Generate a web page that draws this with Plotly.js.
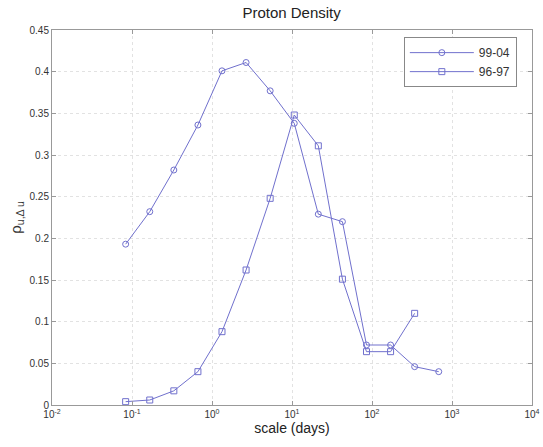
<!DOCTYPE html>
<html>
<head>
<meta charset="utf-8">
<script src="https://cdn.plot.ly/plotly-3.0.1.min.js"></script>
<style>html,body{margin:0;padding:0;background:#fff;}#chart{width:543px;height:447px;}</style>
</head>
<body>
<div id="chart"></div>
<script>
var scaleDays = [0.0833, 0.1667, 0.3333, 0.6667, 1.333, 2.667, 5.333, 10.67, 21.33, 42.67, 85.33, 170.7, 341.3, 682.7];
var rho9904 = [0.193, 0.232, 0.282, 0.336, 0.401, 0.411, 0.377, 0.338, 0.229, 0.220, 0.072, 0.072, 0.046, 0.040];
var scaleDays9697 = [0.0833, 0.1667, 0.3333, 0.6667, 1.333, 2.667, 5.333, 10.67, 21.33, 42.67, 85.33, 170.7, 341.3];
var rho9697 = [0.004, 0.006, 0.017, 0.040, 0.088, 0.162, 0.248, 0.348, 0.311, 0.151, 0.064, 0.064, 0.110];
var xTickVals = [0.01, 0.1, 1, 10, 100, 1000, 10000];
var xTickText = ['10<sup>-2</sup>', '10<sup>-1</sup>', '10<sup>0</sup>', '10<sup>1</sup>', '10<sup>2</sup>', '10<sup>3</sup>', '10<sup>4</sup>'];
var yTickVals = [0, 0.05, 0.1, 0.15, 0.2, 0.25, 0.3, 0.35, 0.4, 0.45];
var yTickText = ['0', '0.05', '0.1', '0.15', '0.2', '0.25', '0.3', '0.35', '0.4', '0.45'];

var col = 'rgb(112,112,205)';
var traces = [
  {x: scaleDays, y: rho9904, name: '99-04', type: 'scatter', mode: 'lines+markers',
   line: {color: col, width: 1}, marker: {symbol: 'circle-open', size: 6, color: col, line: {width: 1}}},
  {x: scaleDays9697, y: rho9697, name: '96-97', type: 'scatter', mode: 'lines+markers',
   line: {color: col, width: 1}, marker: {symbol: 'square-open', size: 6, color: col, line: {width: 1}}}
];
var layout = {
  width: 543, height: 447,
  margin: {l: 52, r: 11, t: 30, b: 42, pad: 0},
  paper_bgcolor: '#fff', plot_bgcolor: '#fff',
  font: {family: 'Liberation Sans, Arial, sans-serif', size: 10, color: '#333'},
  title: {text: 'Proton Density', x: 0.537, xanchor: 'center', y: 0.972, yanchor: 'middle', font: {size: 15, color: '#222'}},
  xaxis: {type: 'log', range: [-2, 4], tickvals: xTickVals, ticktext: xTickText,
    showgrid: true, gridcolor: '#e2e2e2', griddash: 'dot', gridwidth: 1,
    showline: true, linecolor: '#999', linewidth: 1, mirror: 'ticks', ticks: 'inside', ticklen: 4, tickcolor: '#999',
    zeroline: false, tickfont: {size: 10, color: '#333'},
    title: {text: 'scale (days)', font: {size: 14, color: '#222'}, standoff: 4}},
  yaxis: {range: [0, 0.45], tickvals: yTickVals, ticktext: yTickText,
    showgrid: true, gridcolor: '#e2e2e2', griddash: 'dot', gridwidth: 1,
    showline: true, linecolor: '#999', linewidth: 1, mirror: 'ticks', ticks: 'inside', ticklen: 4, tickcolor: '#999',
    zeroline: false, tickfont: {size: 10, color: '#333'},
    title: {text: 'ρ<sub>u,Δ u</sub>', font: {size: 15, color: '#333'}, standoff: 4}},
  legend: {x: 0.733, y: 0.981, xanchor: 'left', yanchor: 'top', bgcolor: '#fff', bordercolor: '#888', borderwidth: 1,
    font: {size: 12, color: '#333'}, tracegroupgap: 0, itemwidth: 64},
  showlegend: true
};
Plotly.newPlot('chart', traces, layout, {displayModeBar: false, staticPlot: true});
</script>
</body>
</html>
